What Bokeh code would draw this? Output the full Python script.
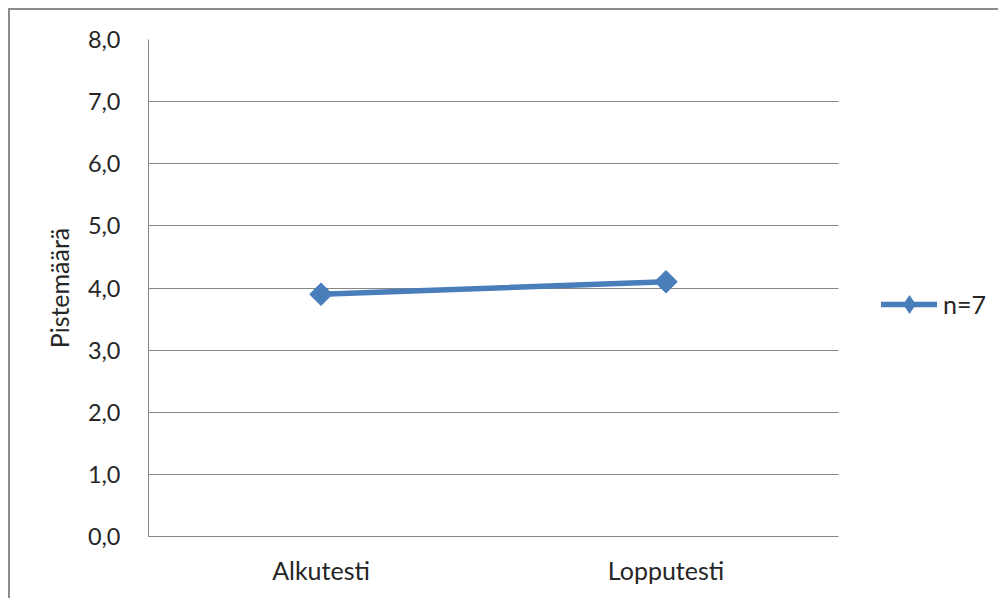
from bokeh.plotting import figure
from bokeh.models import (Range1d, FixedTicker, CustomJSTickFormatter,
                          Legend, LegendItem, ColumnDataSource)
from bokeh.embed import file_html
from bokeh.resources import INLINE
import numpy as np

categories = ["Alkutesti", "Lopputesti"]
values = [3.9, 4.1]
series_name = "n=7"
y_ticks = [0, 1, 2, 3, 4, 5, 6, 7, 8]
y_title = "Pistemäärä"

FONT = "Lato"
TXT = "#262626"
GRID = "#868686"
BLUE = "#4a7ebb"

# category slots: each category occupies one unit, centred at i + 0.5
n_cat = len(categories)
cat_x = [i + 0.5 for i in range(n_cat)]
PLOT_W, PLOT_H = 990, 590
LEFT, TOP, BOTTOM = 138, 29, 64
CAT_PX = 345  # pixel width of one category slot
frame_w = PLOT_W - LEFT
x_end = frame_w / CAT_PX

p = figure(width=PLOT_W, height=PLOT_H, output_backend="svg", toolbar_location=None,
           x_range=Range1d(0, x_end), y_range=Range1d(0, 8),
           min_border_left=LEFT, min_border_top=TOP, min_border_right=0, min_border_bottom=BOTTOM,
           margin=(8, 0, 0, 8),
           styles={"border-left": "2px solid #8c8c8c", "border-top": "2px solid #8c8c8c"})
p.outline_line_color = None
p.background_fill_color = "white"
p.border_fill_color = "white"

p.xgrid.grid_line_color = None
p.ygrid.grid_line_color = GRID
p.ygrid.grid_line_width = 1
p.ygrid.cross_bounds = (0, n_cat)

p.yaxis.ticker = FixedTicker(ticks=y_ticks)
p.yaxis.formatter = CustomJSTickFormatter(code="return tick.toFixed(1).replace('.', ',');")
p.xaxis.ticker = FixedTicker(ticks=cat_x)
p.xaxis.major_label_overrides = {x: c for x, c in zip(cat_x, categories)}
p.xaxis.bounds = (0, n_cat)
for ax in (p.xaxis[0], p.yaxis[0]):
    ax.axis_line_color = GRID
    ax.axis_line_width = 1
    ax.major_tick_line_color = None
    ax.minor_tick_line_color = None
    ax.major_tick_out = 0
    ax.major_tick_in = 0
    ax.major_label_text_font = FONT
    ax.major_label_text_color = TXT
p.yaxis.major_label_text_font_size = "23.5px"
p.xaxis.major_label_text_font_size = "25px"
p.yaxis.major_label_standoff = 28
p.xaxis.major_label_standoff = 18
p.yaxis.axis_label = y_title
p.yaxis.axis_label_text_font = FONT
p.yaxis.axis_label_text_font_size = "25px"
p.yaxis.axis_label_text_font_style = "normal"
p.yaxis.axis_label_text_color = TXT
p.yaxis.axis_label_standoff = 11

src = ColumnDataSource(dict(x=cat_x, y=values))
ln = p.line("x", "y", source=src, line_color=BLUE, line_width=5.5, line_cap="round")
mk = p.scatter("x", "y", source=src, marker="square", angle=np.pi / 4, size=16,
               fill_color=BLUE, line_color=BLUE)
# legend swatch marker (diamond shape; legend ignores marker rotation)
mk_leg = p.scatter("x", "y", source=src, marker="diamond", size=20,
                   fill_color=BLUE, line_color=BLUE, visible=False)

legend = Legend(items=[LegendItem(label=series_name, renderers=[ln, mk_leg])],
                location=(733, 210), padding=0, margin=0, border_line_color=None,
                background_fill_alpha=0, glyph_width=56, glyph_height=44,
                label_standoff=6, label_text_font=FONT, label_text_font_size="25px",
                label_text_color=TXT, label_height=44, click_policy="none")
p.add_layout(legend, "center")

open("out.html", "w").write(file_html(p, INLINE))
